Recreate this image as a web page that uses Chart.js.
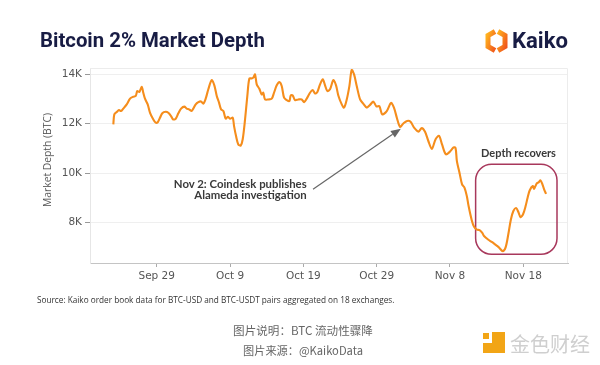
<!DOCTYPE html>
<html><head><meta charset="utf-8">
<script src="https://cdn.jsdelivr.net/npm/chart.js@4.4.1/dist/chart.umd.min.js"></script>
<style>
html,body{margin:0;padding:0;background:#fff;}
#wrap{position:relative;width:600px;height:365px;overflow:hidden;background:#fff;}
#c{position:absolute;left:0;top:0;width:600px;height:365px;}
.t{position:absolute;white-space:nowrap;line-height:1.2;}
</style></head><body>
<div id="wrap">
<canvas id="c" width="600" height="365"></canvas>
<div class="t" id="title" data-x="40" data-y="40" data-w="225" data-a="l" style="font:bold 21px Roboto, sans-serif;color:#181c44;">Bitcoin 2% Market Depth</div>
<svg style="position:absolute;left:484px;top:29px" width="25" height="24" viewBox="0 0 25 24">
<defs><linearGradient id="kg" x1="0" y1="0" x2="1" y2="1"><stop offset="0" stop-color="#ffb21e"/><stop offset="1" stop-color="#f0561c"/></linearGradient></defs>
<path d="M11 2.5 L4 6.5 L4 17.5 L11 21.5" fill="none" stroke="url(#kg)" stroke-width="5" stroke-linejoin="miter"/>
<path d="M14 2.5 L21 6.5 L21 17.5 L14 21.5" fill="none" stroke="url(#kg)" stroke-width="5" stroke-linejoin="miter"/>
</svg>
<div class="t" id="kaiko" data-x="512" data-y="40" data-w="56" data-a="l" style="font:bold 21px Roboto, sans-serif;color:#181c44;">Kaiko</div>
<div class="t" id="ytitle" style="font:10px 'Open Sans', sans-serif;color:#555;left:47px;top:160px;transform:translate(-50%,-50%) rotate(-90deg);">Market Depth (BTC)</div>
<div class="t" id="note1" style="font:bold 11px Lato, sans-serif;color:#3a3a3a;">Nov 2: Coindesk publishes</div>
<div class="t" id="note2" style="font:bold 11px Lato, sans-serif;color:#3a3a3a;">Alameda investigation</div>
<div class="t" id="recov" style="font:bold 11px Lato, sans-serif;color:#3a3a3a;">Depth recovers</div>
<div class="t" id="src" data-x="37" data-y="299" data-w="358" data-a="l" style="font:9px 'Open Sans', sans-serif;color:#333;">Source: Kaiko order book data for BTC-USD and BTC-USDT pairs aggregated on 18 exchanges.</div>
<div class="t" id="cap1" data-x="303" data-y="330" data-w="140" data-a="c" style="font:11px 'Noto Sans CJK SC', sans-serif;color:#666;">图片说明：BTC 流动性骤降</div>
<div class="t" id="cap2" data-x="303" data-y="350" data-w="120" data-a="c" style="font:11px 'Noto Sans CJK SC', sans-serif;color:#666;">图片来源：@KaikoData</div>
<svg style="position:absolute;left:483px;top:332px" width="23" height="22" viewBox="0 0 23 22">
<rect x="0" y="1" width="6" height="6" fill="#f2a516"/>
<path d="M9 0 H22 V21 H0 V11 H9 Z" fill="#f2a516"/>
</svg>
<div class="t" id="jinse" data-x="510" data-y="343" data-w="80" data-a="l" style="font:20px 'Noto Sans CJK SC', sans-serif;color:#cfcfcf;">金色财经</div>
</div>
<script>
// ---- data ----
const tickDays = [0, 10, 20, 30, 40, 50];
const tickLabels = ['Sep 29', 'Oct 9', 'Oct 19', 'Oct 29', 'Nov 8', 'Nov 18'];
const yTickValues = [8000, 10000, 12000, 14000];
const yTickLabels = ['8K', '10K', '12K', '14K'];
// days since Sep 29
const dayOffsets = [-5.92,-5.78,-5.46,-5.14,-4.87,-4.56,-4.09,-3.64,-3.19,-2.86,
-2.65,-2.37,-2.05,-1.83,-1.60,-1.23,-0.91,-0.46,-0.14,0.14,
0.45,0.76,1.23,1.58,1.95,2.26,2.59,2.95,3.32,3.77,
4.09,4.41,4.77,4.99,5.32,5.68,6.04,6.36,6.68,7.04,
7.50,7.86,8.19,8.50,8.77,9.09,9.41,9.69,10.0,10.37,
10.55,10.82,11.13,11.46,11.73,12.05,12.36,12.63,12.96,13.18,
13.41,13.64,14.0,14.32,14.54,14.77,15.23,15.69,16.0,16.37,
16.73,17.05,17.37,17.74,18.09,18.28,18.55,18.87,19.32,19.78,
20.10,20.46,20.91,21.28,21.60,21.91,22.28,22.65,22.96,23.27,
23.64,24.09,24.46,24.77,25.24,25.55,25.92,26.28,26.60,26.92,
27.29,27.74,28.14,28.65,29.10,29.55,29.96,30.37,30.76,31.38,
31.96,32.37,32.78,33.19,33.64,34.15,34.62,35.10,35.69,36.15,
36.60,37.05,37.52,38.04,38.51,38.92,39.44,39.96,40.49,40.76,
40.94,41.32,41.65,41.99,42.31,42.54,42.97,43.29,43.66,44.04,
44.41,44.65,45.24,45.70,46.15,46.67,47.20,47.59,47.97,48.31,
48.65,49.02,49.33,49.63,49.97,50.31,50.59,50.87,51.30,51.47,
51.84,52.09,52.35,52.61,52.84,53.11];
const depthBTC = [11970,12380,12470,12550,12510,12610,12780,13010,13090,13120,
13320,13280,13490,13250,13010,12780,12440,12170,12040,12060,
12240,12420,12480,12440,12310,12170,12200,12420,12610,12690,
12610,12580,12510,12610,12780,12870,12900,12810,13010,13390,
13760,13550,13120,12850,12580,12510,12200,12280,12200,12240,
11900,11500,11160,11120,11370,12170,13120,13820,13830,13860,
13990,13590,13410,13180,13250,12980,12980,13010,13250,13550,
13680,13520,13050,12950,12910,13140,13140,12950,12980,12980,
12870,13010,13250,13360,13220,13280,13590,13790,13550,13320,
13390,13760,13550,13140,12780,12650,12980,13520,14170,13990,
13510,12980,12820,12650,12760,12890,12700,12710,12380,12510,
12840,12640,12210,11870,12010,12110,12080,11840,11680,11820,
11670,11300,10980,11370,11510,11160,10760,10860,11040,11020,
10500,9990,9550,9410,9060,8670,8100,7830,7720,7700,
7590,7460,7310,7220,7120,7000,6850,7000,7550,8130,
8470,8590,8430,8220,8340,8660,9010,9300,9480,9370,
9590,9630,9710,9550,9350,9160];

// annotation anchors in data units (day, BTC)
const arrowFrom = {x: 21.32, y: 9350};
const arrowTo = {x: 33.3, y: 11800};
const noteAnchor = {x: 20.46, y1: 9616, y2: 9144};
const recoverAnchor = {x: 49.35, y: 10853};
const recoverBox = {x0: 43.5, x1: 54.6, y0: 10360, y1: 6720};

// ---- text fitting ----
function fit(el, targetW) {
  const fs = parseFloat(getComputedStyle(el).fontSize);
  const w = el.getBoundingClientRect().width;
  el.style.fontSize = (fs * targetW / w).toFixed(2) + 'px';
}
function place(el, x, y, a) {
  el.style.left = x + 'px';
  el.style.top = y + 'px';
  const tx = a === 'l' ? '0' : a === 'r' ? '-100%' : '-50%';
  el.style.transform = 'translate(' + tx + ',-50%)';
}
document.querySelectorAll('[data-w]').forEach(el => {
  fit(el, +el.dataset.w);
  place(el, +el.dataset.x, +el.dataset.y, el.dataset.a);
});

const annot = {
  id: 'annot',
  beforeDatasetsDraw(chart) {
    const {ctx, scales: {x, y}} = chart;
    const x0 = x.getPixelForValue(recoverBox.x0), x1 = x.getPixelForValue(recoverBox.x1);
    const y0 = y.getPixelForValue(recoverBox.y0), y1 = y.getPixelForValue(recoverBox.y1);
    ctx.save();
    ctx.strokeStyle = '#a8385c';
    ctx.lineWidth = 1.5;
    ctx.beginPath();
    ctx.roundRect(x0, y0, x1 - x0, y1 - y0, 16);
    ctx.stroke();
    ctx.restore();
  },
  afterDatasetsDraw(chart) {
    const {ctx, scales: {x, y}} = chart;
    const ax = x.getPixelForValue(arrowFrom.x), ay = y.getPixelForValue(arrowFrom.y);
    const bx = x.getPixelForValue(arrowTo.x), by = y.getPixelForValue(arrowTo.y);
    const ang = Math.atan2(by - ay, bx - ax);
    const hl = 10, hw = 4;
    ctx.save();
    ctx.strokeStyle = '#666';
    ctx.fillStyle = '#666';
    ctx.lineWidth = 1.2;
    ctx.beginPath();
    ctx.moveTo(ax, ay);
    ctx.lineTo(bx - hl * Math.cos(ang), by - hl * Math.sin(ang));
    ctx.stroke();
    ctx.beginPath();
    ctx.moveTo(bx, by);
    ctx.lineTo(bx - hl * Math.cos(ang) + hw * Math.sin(ang), by - hl * Math.sin(ang) - hw * Math.cos(ang));
    ctx.lineTo(bx - hl * Math.cos(ang) - hw * Math.sin(ang), by - hl * Math.sin(ang) + hw * Math.cos(ang));
    ctx.closePath();
    ctx.fill();
    // plot frame
    const ca = chart.chartArea;
    ctx.strokeStyle = '#ececec';
    ctx.lineWidth = 1;
    ctx.beginPath();
    ctx.moveTo(ca.left, ca.top + 0.5);
    ctx.lineTo(ca.right - 0.5, ca.top + 0.5);
    ctx.lineTo(ca.right - 0.5, ca.bottom);
    ctx.stroke();
    ctx.restore();
  }
};

const chart = new Chart(document.getElementById('c'), {
  type: 'line',
  data: {
    datasets: [{
      data: dayOffsets.map((d, i) => ({x: d, y: depthBTC[i]})),
      borderColor: '#f58d1c',
      borderWidth: 2.1,
      pointRadius: 0,
      tension: 0.3,
      fill: false
    }]
  },
  options: {
    responsive: false,
    animation: false,
    layout: {padding: {left: 0, right: 32, top: 68, bottom: 0}},
    plugins: {legend: {display: false}, tooltip: {enabled: false}},
    scales: {
      x: {
        type: 'linear', min: -9.1, max: 56.1,
        afterBuildTicks: s => { s.ticks = tickDays.map(v => ({value: v})); },
        afterFit: s => { s.height = 102; },
        ticks: {
          callback: v => tickLabels[tickDays.indexOf(v)],
          autoSkip: false, maxRotation: 0, padding: 3,
          color: '#555', font: {family: 'DejaVu Sans', size: 10.5}
        },
        grid: {drawOnChartArea: false, tickLength: 4, tickColor: '#aaa'},
        border: {color: '#c4c4c4', dash: [2, 2]}
      },
      y: {
        min: 6370, max: 14250,
        afterBuildTicks: s => { s.ticks = yTickValues.map(v => ({value: v})); },
        afterFit: s => { s.width = 90; },
        ticks: {
          callback: v => yTickLabels[yTickValues.indexOf(v)],
          padding: 3, color: '#555', font: {family: 'DejaVu Sans', size: 10.5}
        },
        grid: {color: '#efefef', tickLength: 5, tickColor: '#999'},
        border: {color: '#e6e6e6'}
      }
    }
  },
  plugins: [annot]
});

// place annotation texts from data anchors
(function () {
  const xs = chart.scales.x, ys = chart.scales.y;
  const n1 = document.getElementById('note1'), n2 = document.getElementById('note2');
  fit(n1, 133);
  n2.style.fontSize = n1.style.fontSize;
  const nx = xs.getPixelForValue(noteAnchor.x);
  place(n1, nx, ys.getPixelForValue(noteAnchor.y1), 'r');
  place(n2, nx, ys.getPixelForValue(noteAnchor.y2), 'r');
  const r = document.getElementById('recov');
  fit(r, 75);
  place(r, xs.getPixelForValue(recoverAnchor.x), ys.getPixelForValue(recoverAnchor.y), 'c');
  const yt = document.getElementById('ytitle');
  const w = yt.getBoundingClientRect().height;
  yt.style.fontSize = (10 * 94 / w).toFixed(2) + 'px';
})();
</script>
</body></html>
